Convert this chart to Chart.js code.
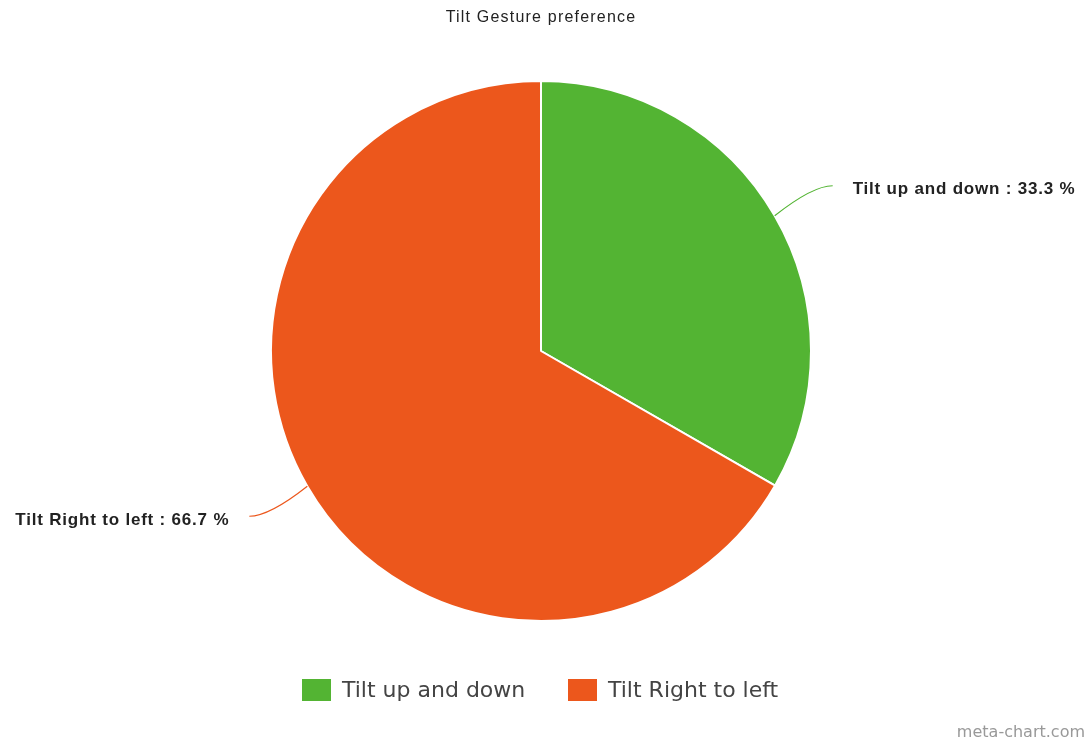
<!DOCTYPE html>
<html lang="en">
<head>
    <meta charset="UTF-8">
    <title>Tilt Gesture preference</title>
    <style>
        html, body { margin: 0; padding: 0; background: #fff; }
        #wrap { width: 1090px; height: 742px; position: relative; }
    </style>
</head>
<body>
    <div id="wrap">
        <canvas id="myChart" width="1090" height="742"></canvas>
    </div>
<script src="https://cdn.jsdelivr.net/npm/chart.js"></script>
<script>
    const labels = ['Tilt up and down', 'Tilt Right to left'];
    const values = [33.3, 66.7];
    const colors = ['#53b433', '#ec571c'];
    const chartTitle = 'Tilt Gesture preference';

    // outside labels, title, legend and watermark
    const extras = {
        id: 'extras',
        afterDraw(chart) {
            const ctx = chart.ctx;
            const meta = chart.getDatasetMeta(0);
            ctx.save();

            // title
            ctx.fillStyle = '#222';
            ctx.font = '16px "Liberation Sans", Arial, sans-serif';
            ctx.letterSpacing = '1.2px';
            ctx.textAlign = 'center';
            ctx.textBaseline = 'middle';
            ctx.fillText(chartTitle, 541, 18);

            // slice labels with curved connectors
            meta.data.forEach((arc, i) => {
                const p = arc.getProps(['x', 'y', 'startAngle', 'endAngle', 'outerRadius'], true);
                const mid = (p.startAngle + p.endAngle) / 2;
                const sx = p.x + Math.cos(mid) * p.outerRadius;
                const sy = p.y + Math.sin(mid) * p.outerRadius;
                const right = Math.cos(mid) >= 0;
                const dir = right ? 1 : -1;
                const ex = sx + dir * 58;
                const ey = sy + Math.sign(Math.sin(mid)) * 30;
                ctx.strokeStyle = colors[i];
                ctx.lineWidth = 1.2;
                ctx.beginPath();
                ctx.moveTo(sx, sy);
                ctx.quadraticCurveTo(sx + dir * 38, ey, ex, ey);
                ctx.stroke();

                ctx.fillStyle = '#222';
                ctx.font = 'bold 17px "Liberation Sans", Arial, sans-serif';
                ctx.letterSpacing = '0.8px';
                ctx.textAlign = right ? 'left' : 'right';
                ctx.fillText(labels[i] + ' : ' + values[i].toFixed(1) + ' %', ex + dir * 20, ey + 4);
            });

            // legend
            ctx.letterSpacing = '0px';
            ctx.font = '22px "DejaVu Sans", sans-serif';
            ctx.textAlign = 'left';
            const lx = [302, 568];
            labels.forEach((l, i) => {
                ctx.fillStyle = colors[i];
                ctx.fillRect(lx[i], 679, 29, 22);
                ctx.fillStyle = '#444';
                ctx.fillText(l, lx[i] + 40, 691);
            });

            // watermark
            ctx.fillStyle = '#999';
            ctx.font = '16px "DejaVu Sans", sans-serif';
            ctx.textAlign = 'right';
            ctx.fillText('meta-chart.com', 1085, 733);
            ctx.restore();
        }
    };

    const config = {
        type: 'pie',
        data: {
            labels: labels,
            datasets: [{
                data: values,
                backgroundColor: colors,
                borderColor: '#fff',
                borderWidth: 2
            }]
        },
        options: {
            responsive: false,
            animation: false,
            layout: {
                padding: { top: 80, bottom: 120, left: 270, right: 278 }
            },
            plugins: {
                legend: { display: false },
                title: { display: false },
                tooltip: { enabled: false }
            }
        },
        plugins: [extras]
    };

    var myChart = new Chart(document.getElementById('myChart'), config);
</script>
</body>
</html>
